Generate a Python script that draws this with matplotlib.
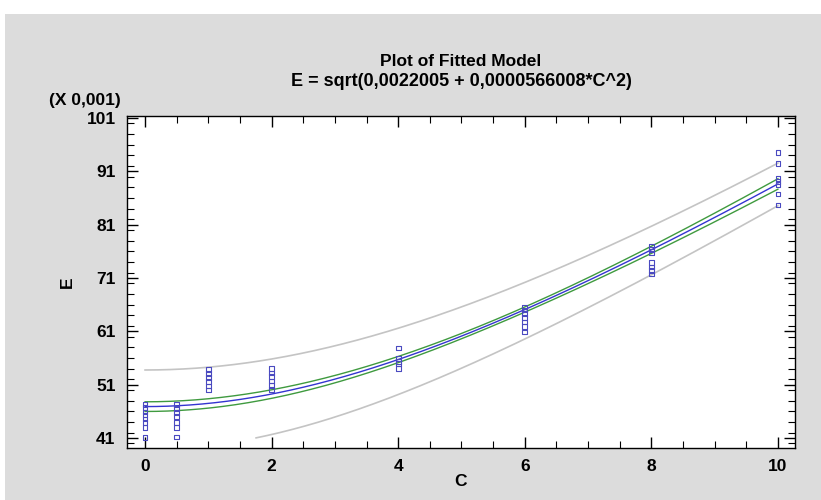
import numpy as np
import matplotlib
matplotlib.use("Agg")
import matplotlib.pyplot as plt
from matplotlib.patches import Rectangle
from matplotlib.ticker import MultipleLocator

# Observed data (E in units of 0.001)
c0 = [0]*8
e0 = [47.3, 46.7, 45.9, 45.3, 44.6, 43.9, 43.0, 41.1]
c05 = [0.5]*7
e05 = [47.3, 46.6, 45.8, 45.0, 43.9, 43.0, 41.2]
c1 = [1]*6
e1 = [53.9, 53.1, 52.4, 51.6, 50.8, 50.0]
c2 = [2]*6
e2 = [54.1, 53.2, 52.5, 51.7, 50.9, 50.1]
c4 = [4]*5
e4 = [57.9, 55.9, 55.4, 55.0, 54.1]
c6 = [6]*7
e6 = [65.6, 65.0, 64.4, 63.6, 62.8, 61.9, 60.9]
c8 = [8]*7
e8 = [76.9, 76.4, 75.7, 73.9, 73.1, 72.4, 71.8]
c10 = [10]*7
e10 = [94.6, 92.5, 89.7, 89.1, 88.6, 86.8, 84.7]

C = np.array(c0 + c05 + c1 + c2 + c4 + c6 + c8 + c10, dtype=float)
E = np.array(e0 + e05 + e1 + e2 + e4 + e6 + e8 + e10, dtype=float)

# Fitted model: E = sqrt(a + b*C^2)
a = 0.0022005
b = 0.0000566008
# interval half-widths on the E^2 scale (units 1e-6)
ci_base = 3600.0
ci_slope = 4.97
ci_center = 27.0
pi_extra = 470000.0

y_ticks = [41, 51, 61, 71, 81, 91, 101]
x_ticks = [0, 2, 4, 6, 8, 10]

xs = np.linspace(0, 10, 400)
fit_sq = (a + b * xs**2) * 1e6
ci_hw = np.sqrt(ci_base + ci_slope * (xs**2 - ci_center)**2)
pi_hw = np.sqrt(pi_extra + ci_base + ci_slope * (xs**2 - ci_center)**2)

def safe_sqrt(v, lo=None):
    v = np.array(v, dtype=float)
    out = np.full_like(v, np.nan)
    m = v > 0
    out[m] = np.sqrt(v[m])
    if lo is not None:
        out[out < lo] = np.nan
    return out

fit = safe_sqrt(fit_sq)
ci_lo = safe_sqrt(fit_sq - ci_hw)
ci_hi = safe_sqrt(fit_sq + ci_hw)
pi_lo = safe_sqrt(fit_sq - pi_hw, lo=y_ticks[0])
pi_hi = safe_sqrt(fit_sq + pi_hw)

plt.rcParams['font.family'] = ['Liberation Sans', 'DejaVu Sans']

W, H = 821, 500
fig = plt.figure(figsize=(W/100, H/100), dpi=100, facecolor='white')
fig.patches.append(Rectangle((5/W, 0), 1 - 5/W, 1 - 14/H, transform=fig.transFigure,
                             facecolor='#dcdcdc', edgecolor='none', zorder=-10))

ax = fig.add_axes([126.7/W, 1 - 447.7/H, (795 - 126.7)/W, (447.7 - 116)/H])
ax.set_facecolor('white')

ax.plot(xs, pi_hi, color='#c4c4c4', lw=1.2, zorder=2)
ax.plot(xs, pi_lo, color='#c4c4c4', lw=1.2, zorder=2)
ax.plot(xs, ci_hi, color='#3f9a3f', lw=1.0, zorder=3)
ax.plot(xs, ci_lo, color='#3f9a3f', lw=1.0, zorder=3)
ax.plot(xs, fit, color='#3434d0', lw=1.0, zorder=4)
ax.scatter(C, E, marker='s', s=11, facecolors='none', edgecolors='#4a4ac0',
           linewidths=0.8, zorder=5)

ax.set_xlim(-0.29, 10.27)
ax.set_ylim(39.2, 101.4)
ax.set_xticks(x_ticks)
ax.set_yticks(y_ticks)
ax.xaxis.set_minor_locator(MultipleLocator(0.5))
ax.yaxis.set_minor_locator(MultipleLocator(2))
ax.tick_params(which='both', direction='in', top=True, right=True, color='black')
ax.tick_params(which='major', length=8, width=1, labelsize=12.5, pad=8)
ax.tick_params(which='minor', length=5, width=0.8)
for lab in ax.get_xticklabels() + ax.get_yticklabels():
    lab.set_fontweight('bold')
for s in ax.spines.values():
    s.set_linewidth(1.0)
    s.set_color('black')

ax.set_xlabel('C', fontsize=12.5, fontweight='bold', labelpad=0)
ax.set_ylabel('E', fontsize=12.5, fontweight='bold', labelpad=8)

fig.text(85/W, 1 - 100/H, '(X 0,001)', ha='center', va='center', fontsize=12.5, fontweight='bold')
fig.text(461/W, 1 - 62/H, 'Plot of Fitted Model', ha='center', va='center', fontsize=12.5, fontweight='bold')
fig.text(461/W, 1 - 82/H, 'E = sqrt(0,0022005 + 0,0000566008*C^2)', ha='center', va='center',
         fontsize=13, fontweight='bold')

fig.savefig('out.png', dpi=100, facecolor=fig.get_facecolor())
